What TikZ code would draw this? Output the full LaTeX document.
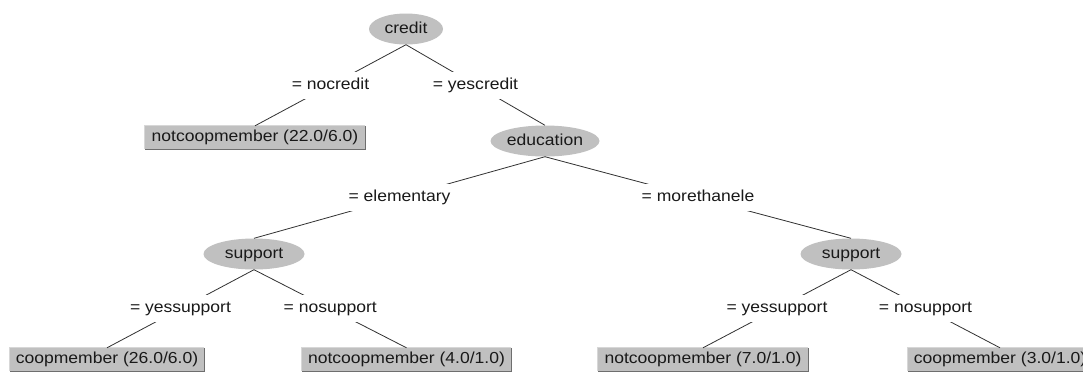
\documentclass[tikz,border=0pt]{standalone}
\usepackage{fontspec}
\setmainfont{Liberation Sans}[FakeStretch=1.1]
\usetikzlibrary{shapes.geometric}
\definecolor{wgray}{RGB}{192,192,192}
\definecolor{txt}{RGB}{25,25,25}
\definecolor{linec}{RGB}{50,50,50}
\definecolor{dkedge}{RGB}{110,110,110}
\definecolor{ltedge}{RGB}{215,215,215}
\begin{document}
\begin{tikzpicture}[x=1bp,y=-1bp,
  wfont/.style={font=\fontsize{16}{18}\selectfont, text=txt, text height=11.5bp, text depth=3.5bp},
  inner/.style={wfont, ellipse, fill=wgray, inner sep=0pt, minimum height=31bp},
  leaf/.style={wfont, rectangle, fill=wgray, inner sep=0pt, minimum height=23bp},
  lbl/.style={wfont, fill=white, inner xsep=1bp, inner ysep=0pt, minimum height=27bp},
  conn/.style={draw=linec, line width=0.8bp}]
\fill[white] (0,0) rectangle (1083,374);
\useasboundingbox (0,0) rectangle (1083,374);
\clip (0,0) rectangle (1083,374);
% internal nodes
\node[inner, minimum width=74bp]  (credit) at (406,29) {credit};
\node[inner, minimum width=109bp] (edu)    at (545,141) {education};
\node[inner, minimum width=101bp] (supL)   at (254,254) {support};
\node[inner, minimum width=101bp] (supR)   at (851,254) {support};
% leaves
\node[leaf, minimum width=220bp] (l1) at (255,137.5) {notcoopmember (22.0/6.0)};
\node[leaf, minimum width=194bp] (l2) at (107,359.5) {coopmember (26.0/6.0)};
\node[leaf, minimum width=209bp] (l3) at (406.5,359.5) {notcoopmember (4.0/1.0)};
\node[leaf, minimum width=210bp] (l4) at (703,359.5) {notcoopmember (7.0/1.0)};
\node[leaf, minimum width=184bp] (l5) at (1000,359.5) {coopmember (3.0/1.0)};
\foreach \n in {l1,l2,l3,l4,l5}{
  \draw[ltedge, line width=0.8bp] (\n.south west) -- (\n.north west) -- (\n.north east);
  \draw[dkedge, line width=0.8bp] (\n.north east) -- (\n.south east) -- (\n.south west);
}
% connectors with labels
\draw[conn] (credit.south) -- node[lbl] {= nocredit} (l1.north);
\draw[conn] (credit.south) -- node[lbl] {= yescredit} (edu.north);
\draw[conn] (edu.south) -- node[lbl] {= elementary} (supL.north);
\draw[conn] (edu.south) -- node[lbl] {= morethanele} (supR.north);
\draw[conn] (supL.south) -- node[lbl] {= yessupport} (l2.north);
\draw[conn] (supL.south) -- node[lbl] {= nosupport} (l3.north);
\draw[conn] (supR.south) -- node[lbl] {= yessupport} (l4.north);
\draw[conn] (supR.south) -- node[lbl] {= nosupport} (l5.north);
\end{tikzpicture}
\end{document}
